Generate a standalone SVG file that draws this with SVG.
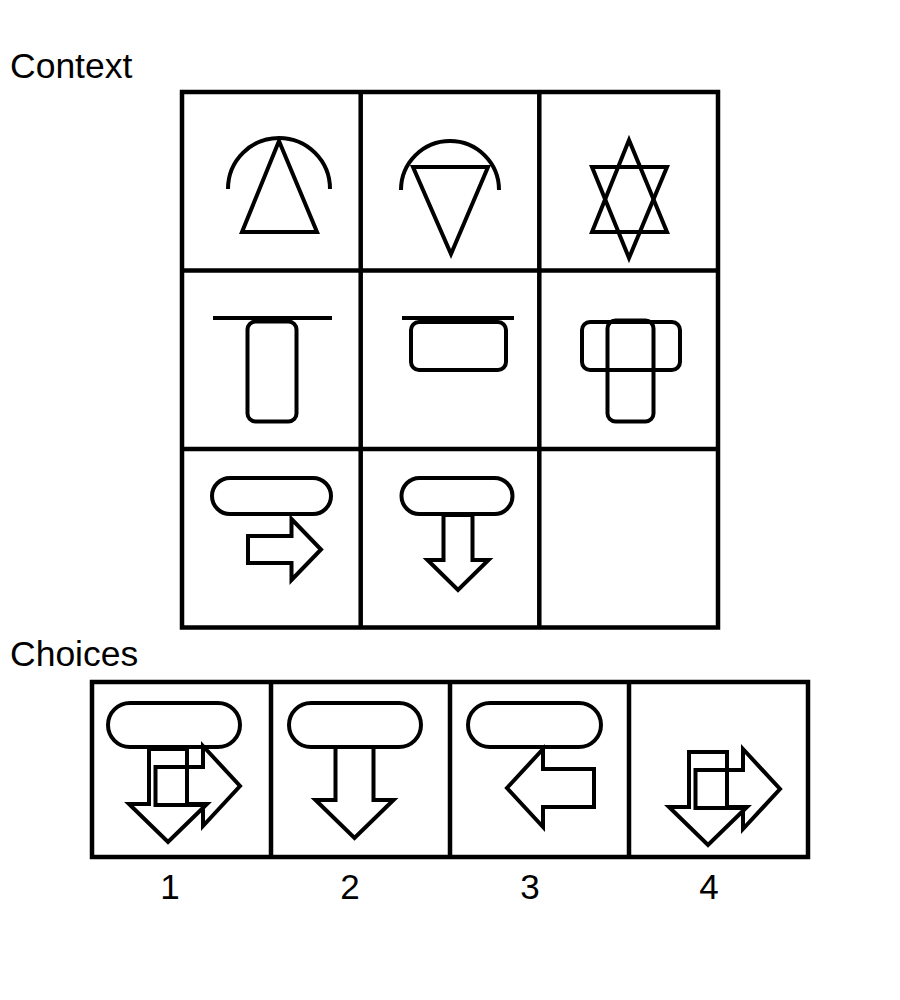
<svg xmlns="http://www.w3.org/2000/svg" xmlns:xlink="http://www.w3.org/1999/xlink" width="900" height="1000" viewBox="0 0 900 1000">
<style>
.lbl{font-family:"Liberation Sans",Arial,sans-serif;font-size:35.5px;fill:#000}
.num{font-family:"Liberation Sans",Arial,sans-serif;font-size:35px;fill:#000;text-anchor:middle}
.grid{fill:none;stroke:#000;stroke-width:4.5}
.s{fill:none;stroke:#000;stroke-width:4;stroke-miterlimit:10}
</style>
<defs>
<g id="combo">
<polygon class="s" points="149,749 187,749 187,804 207,804 168,842 129,804 149,804"/>
<polygon class="s" points="155.5,767 203,767 203,746 240,786 203,826 203,805 155.5,805"/>
</g>
</defs>
<rect width="900" height="1000" fill="#fff"/>
<text class="lbl" x="10" y="78">Context</text>
<text class="lbl" x="10" y="666">Choices</text>

<g id="context-grid">
<rect class="grid" x="182" y="92" width="536" height="535.5"/>
<line class="grid" x1="360.7" y1="92" x2="360.7" y2="627.5"/>
<line class="grid" x1="539.3" y1="92" x2="539.3" y2="627.5"/>
<line class="grid" x1="182" y1="270.5" x2="718" y2="270.5"/>
<line class="grid" x1="182" y1="449" x2="718" y2="449"/>
</g>

<g id="cell-1-1">
<path class="s" d="M228,189 A51,51 0 0 1 330,189"/>
<polygon class="s" points="279,141 317,232 242,232"/>
</g>
<g id="cell-1-2">
<path class="s" d="M401,190 A49,49 0 0 1 499,190"/>
<polygon class="s" points="413,167 488,167 451,254"/>
</g>
<g id="cell-1-3">
<polygon class="s" points="629,140 667,232 592,232"/>
<polygon class="s" points="592,167 667,167 629,258"/>
</g>

<g id="cell-2-1">
<line class="s" x1="213" y1="318" x2="332" y2="318"/>
<rect class="s" x="247.5" y="321.5" width="49" height="100" rx="8"/>
</g>
<g id="cell-2-2">
<line class="s" x1="402" y1="318" x2="514" y2="318"/>
<rect class="s" x="411" y="322" width="95" height="48" rx="8"/>
</g>
<g id="cell-2-3">
<rect class="s" x="582" y="322" width="98" height="48" rx="8"/>
<rect class="s" x="607.5" y="320.5" width="46" height="101" rx="8"/>
</g>

<g id="cell-3-1">
<rect class="s" x="212" y="478" width="119" height="36" rx="18"/>
<polygon class="s" points="248,536 291.5,536 291.5,519 321,549.5 291.5,580 291.5,563 248,563"/>
</g>
<g id="cell-3-2">
<rect class="s" x="401.5" y="478" width="111" height="36" rx="18"/>
<polygon class="s" points="443.5,515 472.5,515 472.5,560 488.5,560 458,590 427.5,560 443.5,560"/>
</g>
<g id="cell-3-3"></g>

<g id="choices-grid">
<rect class="grid" x="92" y="682" width="716" height="175"/>
<line class="grid" x1="271" y1="682" x2="271" y2="857"/>
<line class="grid" x1="450" y1="682" x2="450" y2="857"/>
<line class="grid" x1="629" y1="682" x2="629" y2="857"/>
</g>

<g id="choice-1">
<rect class="s" x="108" y="703" width="132" height="44" rx="22"/>
<use xlink:href="#combo"/>
</g>
<g id="choice-2">
<rect class="s" x="289" y="703" width="132" height="44" rx="22"/>
<polygon class="s" points="335.5,747 373.5,747 373.5,800 393.5,800 354.5,838 315.5,800 335.5,800"/>
</g>
<g id="choice-3">
<rect class="s" x="468" y="703" width="133" height="44" rx="22"/>
<polygon class="s" points="594,769 543,769 543,749 507,788 543,827 543,807 594,807"/>
</g>
<g id="choice-4">
<use xlink:href="#combo" transform="translate(540,3)"/>
</g>

<g id="choice-labels">
<text class="num" x="170" y="899">1</text>
<text class="num" x="350" y="899">2</text>
<text class="num" x="530" y="899">3</text>
<text class="num" x="709" y="899">4</text>
</g>
</svg>
